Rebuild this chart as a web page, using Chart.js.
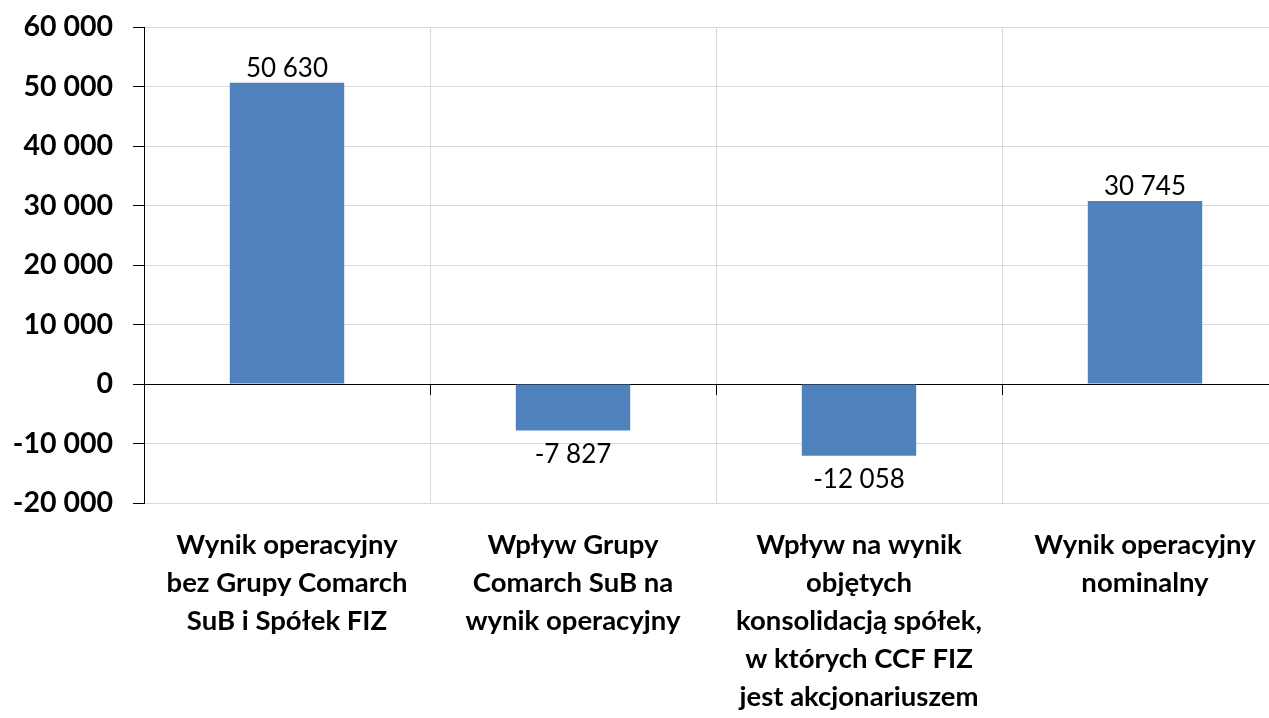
<!DOCTYPE html>
<html>
<head>
<meta charset="utf-8">
<script src="https://cdn.jsdelivr.net/npm/chart.js@4/dist/chart.umd.min.js"></script>
<style>
    html, body { margin: 0; padding: 0; background: #fff; overflow: hidden; }
    #wrap { width: 1300px; height: 718px; }
</style>
</head>
<body>
<div id="wrap"><canvas id="chart"></canvas></div>
<script>
const categories = [
    ["Wynik operacyjny", "bez Grupy Comarch", "SuB i Spółek FIZ"],
    ["Wpływ Grupy", "Comarch SuB na", "wynik operacyjny"],
    ["Wpływ na wynik", "objętych", "konsolidacją spółek,", "w których CCF FIZ", "jest akcjonariuszem"],
    ["Wynik operacyjny", "nominalny"]
];
const values = [50630, -7827, -12058, 30745];
const yMin = -20000;
const yMax = 60000;
const yStep = 10000;

function fmt(v) {
    const s = String(Math.abs(v)).replace(/\B(?=(\d{3})+(?!\d))/g, " ");
    return (v < 0 ? "-" : "") + s;
}

// value labels above / below the bars
const valueLabels = {
    id: "valueLabels",
    afterDatasetsDraw(chart) {
        const ctx = chart.ctx;
        const meta = chart.getDatasetMeta(0);
        ctx.save();
        ctx.font = "26px Lato";
        ctx.fillStyle = "#000";
        ctx.textAlign = "center";
        ctx.textBaseline = "alphabetic";
        meta.data.forEach((bar, i) => {
            const v = values[i];
            const y = v >= 0 ? bar.y - 6 : bar.y + 32;
            ctx.fillText(fmt(v), bar.x, y);
        });
        ctx.restore();
    }
};

// small tick marks hanging under the zero line at category borders
const zeroTicks = {
    id: "zeroTicks",
    afterDatasetsDraw(chart) {
        const ctx = chart.ctx;
        const xs = chart.scales.x;
        const y0 = chart.scales.y.getPixelForValue(0);
        ctx.save();
        ctx.strokeStyle = "#000";
        ctx.lineWidth = 1;
        ctx.beginPath();
        for (let i = 1; i < categories.length; i++) {
            const px = Math.round((xs.getPixelForTick(i - 1) + xs.getPixelForTick(i)) / 2) + 0.5;
            ctx.moveTo(px, y0);
            ctx.lineTo(px, y0 + 11);
        }
        ctx.stroke();
        ctx.restore();
    }
};

new Chart(document.getElementById("chart"), {
    type: "bar",
    data: {
        labels: categories,
        datasets: [{
            data: values,
            backgroundColor: "#4F81BD",
            borderWidth: 0,
            barPercentage: 0.4,
            categoryPercentage: 1
        }]
    },
    options: {
        responsive: true,
        maintainAspectRatio: false,
        animation: false,
        layout: { padding: { top: 27, right: 12, left: 0, bottom: 0 } },
        plugins: {
            legend: { display: false },
            tooltip: { enabled: false }
        },
        scales: {
            x: {
                grid: { color: "#d9d9d9", drawTicks: false, offset: true },
                border: { color: "#d9d9d9" },
                ticks: {
                    color: "#000",
                    maxRotation: 0,
                    autoSkip: false,
                    padding: 23,
                    font: { family: "Lato", size: 27.5, weight: "bold", lineHeight: "38px" }
                },
                afterFit(scale) { scale.height = 215; }
            },
            y: {
                min: yMin,
                max: yMax,
                grid: {
                    color: ctx => ctx.tick && ctx.tick.value === 0 ? "#000" : "#d9d9d9",
                    tickColor: "#000",
                    tickLength: 11
                },
                border: { color: "#000" },
                ticks: {
                    stepSize: yStep,
                    color: "#000",
                    padding: 20,
                    font: { family: "Lato", size: 28.5, weight: "bold" },
                    callback: v => fmt(v)
                },
                afterFit(scale) {
                    scale.width = 144;
                    scale.paddingTop = 0;
                    scale.paddingBottom = 0;
                }
            }
        }
    },
    plugins: [valueLabels, zeroTicks]
});
</script>
</body>
</html>
